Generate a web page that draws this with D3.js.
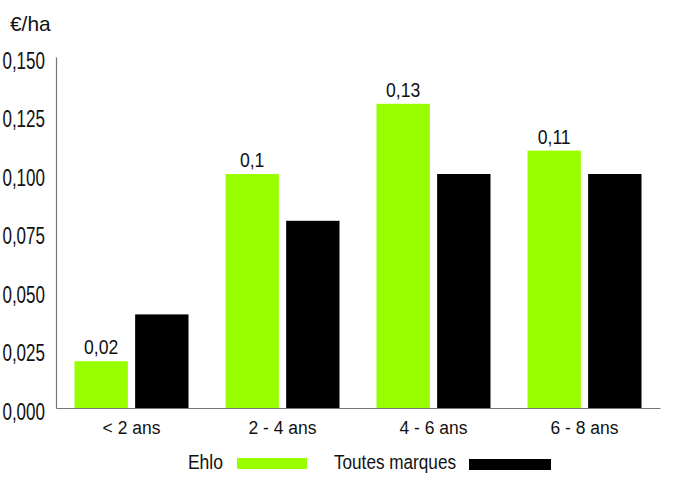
<!DOCTYPE html>
<html>
<head>
<meta charset="utf-8">
<script src="https://cdn.jsdelivr.net/npm/d3@7"></script>
<style>
  body { margin: 0; background: #fff; }
  text { font-family: "Liberation Sans Narrow", "Arial Narrow", "Liberation Sans", sans-serif; fill: #111; }
</style>
</head>
<body>
<svg id="chart" width="700" height="489"></svg>
<script>
const categories = ["< 2 ans", "2 - 4 ans", "4 - 6 ans", "6 - 8 ans"];
const ehlo = [0.02, 0.1, 0.13, 0.11];
const toutesMarques = [0.04, 0.08, 0.10, 0.10];
const ehloLabels = ["0,02", "0,1", "0,13", "0,11"];
const yTicks = [0, 0.025, 0.05, 0.075, 0.1, 0.125, 0.15];
const seriesNames = ["Ehlo", "Toutes marques"];
const colors = ["#99ff00", "#000000"];

const svg = d3.select("#chart");
const fmt = d => d3.format(".3f")(d).replace(".", ",");

// squeeze text horizontally around its anchor (no narrow font installed)
function narrow(size, sx) {
  return sel => sel.each(function () {
    const t = d3.select(this);
    const tx = +t.attr("x") || 0;
    t.attr("x", 0).attr("transform", `translate(${tx},0) scale(${sx},1)`)
      .style("font-size", size + "px").style("font-family", null);
  });
}

const x = d3.scaleBand().domain(categories).range([56, 660]).padding(0);
const y = d3.scaleLinear().domain([0, 0.15]).range([408, 57]);

const inner = d3.scaleBand().domain([0, 1]).range([18.5, 151 - 18.5]).paddingInner(0.12);

// axes
const yAxis = svg.append("g")
  .attr("transform", "translate(56,0)")
  .call(d3.axisLeft(y).tickValues(yTicks).tickFormat(fmt).tickSize(0).tickPadding(11));
yAxis.select(".domain").attr("stroke", "#777").attr("stroke-width", 1.2);
yAxis.selectAll("text").attr("y", 3).attr("dy", "0.35em").call(narrow(23, 0.74));

const xAxis = svg.append("g")
  .attr("transform", "translate(0,408)")
  .call(d3.axisBottom(x).tickSize(0).tickPadding(13));
xAxis.select(".domain").attr("stroke", "#777").attr("stroke-width", 1.2);
xAxis.selectAll("text").attr("dy", "0.71em").call(narrow(19, 0.92));

svg.append("text").attr("x", 10).attr("y", 31).text("€/ha").call(narrow(20.5, 1.02));

// bars
const groups = svg.append("g").selectAll("g").data(categories).join("g")
  .attr("transform", d => `translate(${x(d)},0)`);

groups.append("rect")
  .attr("x", inner(0)).attr("width", inner.bandwidth())
  .attr("y", (d, i) => y(ehlo[i])).attr("height", (d, i) => y(0) - y(ehlo[i]))
  .attr("fill", colors[0]);

groups.append("rect")
  .attr("x", inner(1)).attr("width", inner.bandwidth())
  .attr("y", (d, i) => y(toutesMarques[i])).attr("height", (d, i) => y(0) - y(toutesMarques[i]))
  .attr("fill", colors[1]);

groups.append("text")
  .attr("x", inner(0) + inner.bandwidth() / 2)
  .attr("y", (d, i) => y(ehlo[i]) - 7)
  .attr("text-anchor", "middle")
  .text((d, i) => ehloLabels[i])
  .call(narrow(20, 0.88));

// legend
const legend = svg.append("g");
legend.append("text").attr("x", 223).attr("y", 469).attr("text-anchor", "end").text(seriesNames[0]).call(narrow(19.5, 0.9));
legend.append("rect").attr("x", 237).attr("y", 458).attr("width", 70).attr("height", 11).attr("fill", colors[0]);
legend.append("text").attr("x", 456).attr("y", 469).attr("text-anchor", "end").text(seriesNames[1]).call(narrow(19.5, 0.88));
legend.append("rect").attr("x", 469).attr("y", 459).attr("width", 82).attr("height", 11).attr("fill", colors[1]);
</script>
</body>
</html>
